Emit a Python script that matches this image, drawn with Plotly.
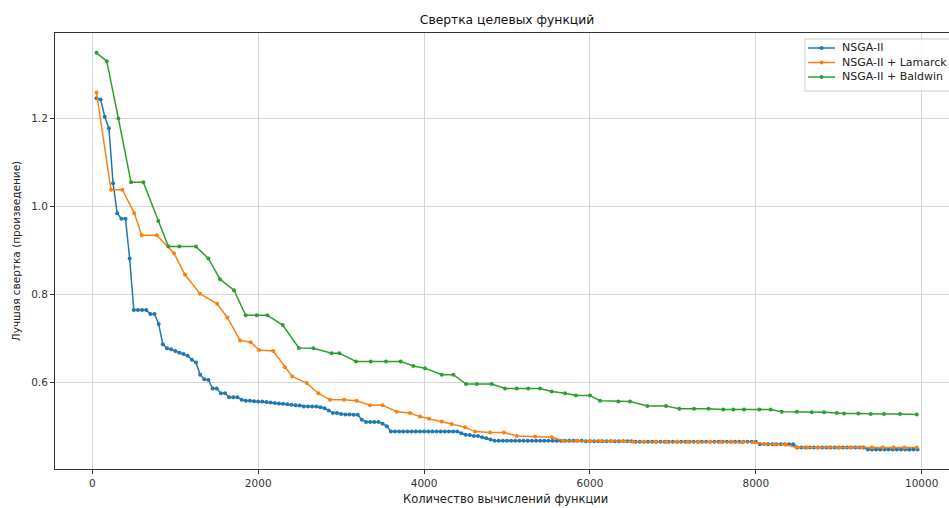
import plotly.graph_objects as go

# ---------------- data ----------------
NSGA_X = list(range(50, 10000, 50))
NSGA_Y = [
    1.245, 1.242, 1.203, 1.177, 1.052, 0.984, 0.971, 0.971, 0.881, 0.764,
    0.764, 0.764, 0.764, 0.755, 0.755, 0.732, 0.686, 0.677, 0.675, 0.671,
    0.667, 0.664, 0.660, 0.651, 0.645, 0.617, 0.607, 0.605, 0.586, 0.586,
    0.575, 0.575, 0.566, 0.566, 0.566, 0.560, 0.558, 0.558, 0.557, 0.556,
    0.556, 0.555, 0.554, 0.553, 0.552, 0.551, 0.550, 0.549, 0.548, 0.547,
    0.545, 0.545, 0.545, 0.545, 0.543, 0.541, 0.536, 0.530, 0.530, 0.528,
    0.527, 0.527, 0.526, 0.526, 0.515, 0.510, 0.510, 0.510, 0.510, 0.506,
    0.500, 0.488,
    0.488, 0.488, 0.488, 0.488, 0.488, 0.488, 0.488, 0.488,
    0.488, 0.488, 0.488, 0.488, 0.488, 0.488, 0.488, 0.488,
    0.484, 0.481, 0.480, 0.478, 0.478, 0.475, 0.473, 0.470, 0.467,
    0.467, 0.467, 0.467, 0.467, 0.467, 0.467, 0.467, 0.467, 0.467, 0.467, 0.467,
    0.467, 0.467, 0.467, 0.467, 0.467, 0.467, 0.467, 0.467, 0.467, 0.467,
    0.466, 0.466, 0.466, 0.466, 0.466, 0.466, 0.466, 0.466, 0.466, 0.466, 0.466, 0.466,
    0.465, 0.465, 0.465, 0.465, 0.465, 0.465, 0.465, 0.465, 0.465, 0.465,
    0.465, 0.465, 0.465, 0.465, 0.465, 0.465, 0.465, 0.465, 0.465, 0.465,
    0.465, 0.465, 0.465, 0.465, 0.465, 0.465, 0.465, 0.465, 0.465, 0.465,
    0.459, 0.459, 0.459, 0.459, 0.459, 0.459, 0.459, 0.459, 0.459,
    0.452, 0.452, 0.452, 0.452, 0.452, 0.452, 0.452, 0.452, 0.452,
    0.452, 0.452, 0.452, 0.452, 0.452, 0.452, 0.452, 0.452,
    0.447, 0.447, 0.447, 0.447, 0.447, 0.447, 0.447, 0.447, 0.447,
    0.447, 0.447, 0.447, 0.447,
]

LAMARCK_X = [
    50, 225, 362, 506, 595, 776, 985, 1118, 1298, 1505,
    1628, 1781, 1910, 2010, 2180, 2323, 2410, 2585, 2725, 2866,
    3035, 3188, 3348, 3501, 3670, 3830, 3951, 4060, 4213, 4333,
    4494, 4614, 4795, 4964, 5117, 5338, 5539, 5679, 5840, 6000,
    6130, 6260, 6400, 6520, 6650, 6790, 6920, 7050, 7180, 7310,
    7450, 7580, 7710, 7840, 7980, 8100, 8230, 8360, 8490, 8620,
    8750, 8880, 9010, 9140, 9270, 9400, 9530, 9660, 9790, 9940,
]
LAMARCK_Y = [
    1.258, 1.037, 1.037, 0.984, 0.934, 0.934, 0.893, 0.844, 0.801, 0.778,
    0.747, 0.695, 0.691, 0.673, 0.671, 0.634, 0.613, 0.598, 0.575, 0.560,
    0.560, 0.558, 0.548, 0.548, 0.533, 0.530, 0.522, 0.517, 0.511, 0.505,
    0.498, 0.488, 0.486, 0.486, 0.478, 0.477, 0.475, 0.467, 0.467, 0.467,
    0.466, 0.466, 0.466, 0.465, 0.465, 0.465, 0.465, 0.465, 0.465, 0.465,
    0.465, 0.465, 0.465, 0.464, 0.464, 0.460, 0.459, 0.458, 0.452, 0.452,
    0.452, 0.452, 0.452, 0.452, 0.452, 0.452, 0.452, 0.452, 0.452, 0.452,
]

BALDWIN_X = [
    50, 174, 314, 467, 615, 796, 917, 1049, 1250, 1399,
    1540, 1708, 1849, 1982, 2110, 2296, 2490, 2665, 2886, 2978,
    3179, 3357, 3541, 3718, 3870, 4011, 4213, 4353, 4506, 4635,
    4815, 4976, 5117, 5257, 5398, 5539, 5700, 5830, 6001, 6121,
    6342, 6483, 6692, 6917, 7077, 7255, 7430, 7608, 7729, 7857,
    8042, 8179, 8312, 8493, 8674, 8822, 8975, 9063, 9236, 9385,
    9545, 9738, 9940,
]
BALDWIN_Y = [
    1.348, 1.329, 1.199, 1.054, 1.054, 0.966, 0.908, 0.908, 0.908, 0.881,
    0.834, 0.809, 0.752, 0.752, 0.752, 0.730, 0.678, 0.677, 0.666, 0.666,
    0.647, 0.647, 0.647, 0.647, 0.637, 0.632, 0.617, 0.617, 0.596, 0.596,
    0.596, 0.586, 0.586, 0.586, 0.586, 0.579, 0.575, 0.570, 0.570, 0.558,
    0.556, 0.556, 0.546, 0.546, 0.540, 0.540, 0.540, 0.538, 0.538, 0.538,
    0.538, 0.538, 0.533, 0.533, 0.532, 0.532, 0.530, 0.529, 0.529, 0.528,
    0.528, 0.528, 0.527,
]

SERIES_NAMES = ["NSGA-II", "NSGA-II + Lamarck", "NSGA-II + Baldwin"]
COLORS = ["#1f77b4", "#ff7f0e", "#2ca02c"]

X_TICKS = [0, 2000, 4000, 6000, 8000, 10000]
X_TICK_TEXT = ["0", "2000", "4000", "6000", "8000", "10000"]
Y_TICKS = [0.6, 0.8, 1.0, 1.2]
Y_TICK_TEXT = ["0.6", "0.8", "1.0", "1.2"]

TITLE = "Свертка целевых функций"
X_TITLE = "Количество вычислений функции"
Y_TITLE = "Лучшая свертка (произведение)"

# ---------------- layout geometry (pixels) ----------------
W, H = 949, 508
ML, MR, MT, MB = 55, 0, 33, 39
PW, PH = W - ML - MR, H - MT - MB


def px_x(p):
    return (p - ML) / PW


def px_y(p):
    return (H - MB - p) / PH


FONT = "DejaVu Sans"
fig = go.Figure()
for xs, ys, name, col in zip(
    [NSGA_X, LAMARCK_X, BALDWIN_X],
    [NSGA_Y, LAMARCK_Y, BALDWIN_Y],
    SERIES_NAMES, COLORS,
):
    fig.add_trace(go.Scatter(
        x=xs, y=ys, name=name, mode="lines+markers",
        line=dict(color=col, width=1.5),
        marker=dict(color=col, size=4),
        showlegend=False,
    ))

# ---- legend drawn as a matplotlib-style box ----
shapes = [dict(type="rect", xref="paper", yref="paper",
               x0=px_x(805), x1=px_x(962), y0=px_y(91), y1=px_y(39),
               line=dict(color="#cccccc", width=1),
               fillcolor="rgba(255,255,255,0.85)", layer="above")]
annotations = []
for i, (name, col) in enumerate(zip(SERIES_NAMES, COLORS)):
    yy = 48 + i * 14.5
    shapes.append(dict(type="line", xref="paper", yref="paper",
                       x0=px_x(808), x1=px_x(835), y0=px_y(yy), y1=px_y(yy),
                       line=dict(color=col, width=1.5), layer="above"))
    shapes.append(dict(type="circle", xref="paper", yref="paper",
                       x0=px_x(819.5), x1=px_x(823.5),
                       y0=px_y(yy + 2), y1=px_y(yy - 2),
                       line=dict(color=col, width=0), fillcolor=col,
                       layer="above"))
    annotations.append(dict(text=name, xref="paper", yref="paper",
                            x=px_x(840), y=px_y(yy), xanchor="left",
                            yanchor="middle", showarrow=False,
                            font=dict(family=FONT, size=11, color="#222222")))

# x-axis title placed to match the reference position
annotations.append(dict(text=X_TITLE, xref="paper", yref="paper",
                        x=px_x(505), y=px_y(499.5), xanchor="center",
                        yanchor="middle", showarrow=False,
                        font=dict(family=FONT, size=11.5, color="#222222")))

axis_common = dict(
    showline=True, linecolor="#333333", linewidth=1,
    ticks="outside", ticklen=4, tickwidth=1, tickcolor="#333333",
    showgrid=True, gridcolor="#d6d6d6", gridwidth=1,
    zeroline=False,
    tickfont=dict(family=FONT, size=10.5, color="#333333"),
)

fig.update_layout(
    width=W, height=H,
    margin=dict(l=ML, r=MR, t=MT, b=MB),
    paper_bgcolor="white", plot_bgcolor="white",
    font=dict(family=FONT, size=10, color="#222222"),
    title=dict(text=TITLE, x=507 / W, xanchor="center",
               y=1 - 20 / H, yanchor="middle",
               font=dict(family=FONT, size=12.3, color="#111111")),
    xaxis=dict(range=[-450, 10329], tickvals=X_TICKS, ticktext=X_TICK_TEXT,
               mirror=True, **axis_common),
    yaxis=dict(range=[0.403, 1.393], tickvals=Y_TICKS, ticktext=Y_TICK_TEXT,
               mirror=False,
               title=dict(text=Y_TITLE, standoff=8,
                          font=dict(family=FONT, size=10.5, color="#222222")),
               **axis_common),
    shapes=shapes,
    annotations=annotations,
    showlegend=False,
)

fig.write_html("out.html")
